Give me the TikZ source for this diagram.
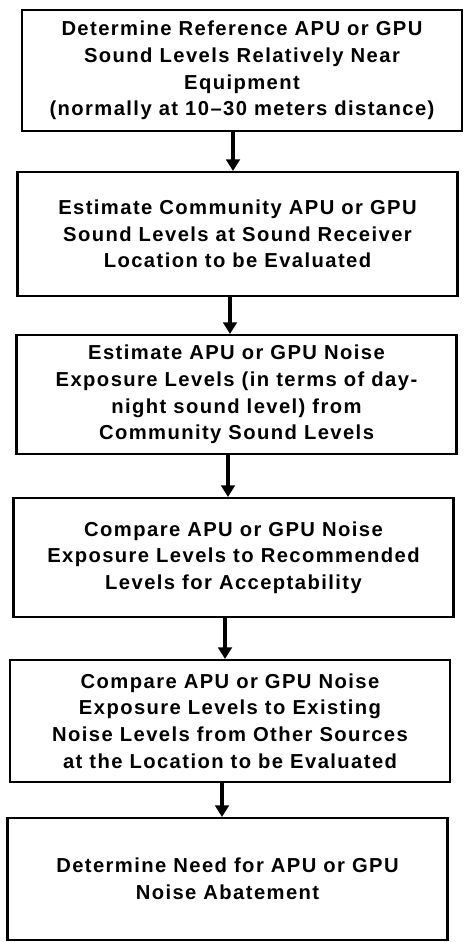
\documentclass[tikz,border=0pt]{standalone}
\usepackage{fontspec}
\setmainfont{Liberation Sans}[LetterSpace=7]
\usetikzlibrary{arrows.meta}

\begin{document}
\begin{tikzpicture}[x=0.02cm, y=-0.02cm,
stepbox/.style={draw, line width=1.2pt, minimum width=8.8cm, minimum height=2.42cm,
  inner sep=0pt, align=center, font=\fontsize{11.5}{15.2}\selectfont\bfseries},
flow/.style={line width=2.2pt, -{Triangle[width=0.27cm, length=0.23cm]}}]
\useasboundingbox (0,0) rectangle (463,942);
\node[stepbox] (b1) at (242,70.5) {Determine Reference APU or GPU\\Sound Levels Relatively Near\\Equipment\\(normally at 10--30 meters distance)};
\node[stepbox, minimum height=2.48cm] (b2) at (237.5,234) {Estimate Community APU or GPU\\Sound Levels at Sound Receiver\\Location to be Evaluated};
\node[stepbox, minimum height=2.38cm] (b3) at (236.5,394.5) {Estimate APU or GPU Noise\\Exposure Levels (in terms of day-\\night sound level) from\\Community Sound Levels};
\node[stepbox, minimum height=2.38cm] (b4) at (233.5,557.5) {Compare APU or GPU Noise\\Exposure Levels to Recommended\\Levels for Acceptability};
\node[stepbox, minimum height=2.44cm] (b5) at (230,721) {Compare APU or GPU Noise\\Exposure Levels to Existing\\Noise Levels from Other Sources\\at the Location to be Evaluated};
\node[stepbox, minimum height=2.44cm] (b6) at (227.5,879) {Determine Need for APU or GPU\\Noise Abatement};
%arrows sit a little left of the box centres
\draw[flow] ([xshift=-0.18cm]b1.south) -- ([xshift=-0.18cm]b1.south |- b2.north);
\draw[flow] ([xshift=-0.15cm]b2.south) -- ([xshift=-0.15cm]b2.south |- b3.north);
\draw[flow] ([xshift=-0.17cm]b3.south) -- ([xshift=-0.17cm]b3.south |- b4.north);
\draw[flow] ([xshift=-0.17cm]b4.south) -- ([xshift=-0.17cm]b4.south |- b5.north);
\draw[flow] ([xshift=-0.16cm]b5.south) -- ([xshift=-0.16cm]b5.south |- b6.north);
\end{tikzpicture}
\end{document}
